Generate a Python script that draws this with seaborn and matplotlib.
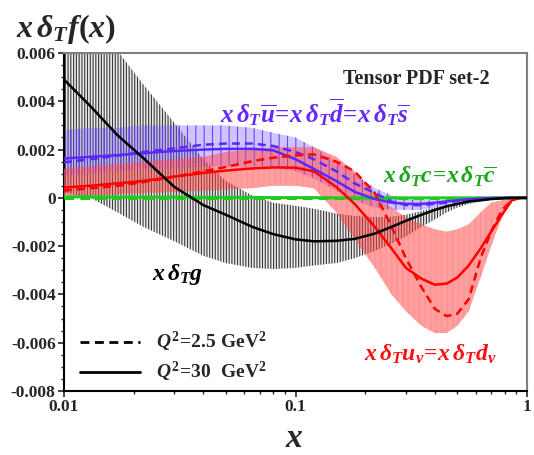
import numpy as np
import matplotlib
matplotlib.use("Agg")
import matplotlib.pyplot as plt
import seaborn as sns
from matplotlib.lines import Line2D
from matplotlib.ticker import FixedLocator, FixedFormatter, NullFormatter, LogLocator

# x grid
x = [0.01, 0.013, 0.017, 0.022, 0.03, 0.04, 0.05, 0.065, 0.08, 0.1, 0.12, 0.15, 0.18,
     0.22, 0.26, 0.3, 0.35, 0.4, 0.45, 0.5, 0.56, 0.63, 0.7, 0.78, 0.86, 0.93, 1.0]

# gluon (black), Q2=30 and its band
g30 = [0.0049, 0.0038, 0.0026, 0.00165, 0.00045, -0.0003, -0.0007, -0.0012, -0.0015, -0.00172,
       -0.0018, -0.00178, -0.0017, -0.00148, -0.0012, -0.00095, -0.0007, -0.0005, -0.00035,
       -0.00025, -0.00015, -0.0001, -0.00005, -0.00002, 0, 0, 0]
g_up = [0.0095, 0.0078, 0.0061, 0.0047, 0.0031, 0.0016, 0.0007, 0.0001, -0.0002, -0.00033,
        -0.00045, -0.00065, -0.00075, -0.0008, -0.00078, -0.0007, -0.00055, -0.0004, -0.0003,
        -0.0002, -0.00012, -0.00007, -0.00004, -0.00002, 0, 0, 0]
g_lo = [0.0002, 0.0, -0.0006, -0.0012, -0.0018, -0.0024, -0.0027, -0.0029, -0.00295, -0.0029,
        -0.0028, -0.0027, -0.0025, -0.0022, -0.0019, -0.0016, -0.0012, -0.0009, -0.0006,
        -0.0004, -0.00025, -0.00015, -0.00008, -0.00003, 0, 0, 0]

# sea antiquarks (blue)
q25 = [0.00147, 0.0016, 0.00175, 0.0019, 0.00205, 0.0022, 0.00225, 0.00225, 0.00215, 0.0019,
       0.0016, 0.0011, 0.0006, 0.0002, -0.00015, -0.0003, -0.0003, -0.00025, -0.0002,
       -0.00013, -0.00008, -0.00004, -0.00002, 0, 0, 0, 0]
q30 = [0.00163, 0.0017, 0.00177, 0.00185, 0.00194, 0.002, 0.00203, 0.00203, 0.00197, 0.0016,
       0.0012, 0.0007, 0.00025, -0.00005, -0.0002, -0.00025, -0.00025, -0.0002, -0.00015,
       -0.0001, -0.00006, -0.00003, -0.00001, 0, 0, 0, 0]
q_up = [0.0028, 0.0029, 0.0029, 0.003, 0.003, 0.003, 0.003, 0.0029, 0.0027, 0.0025, 0.0021,
        0.0015, 0.001, 0.0004, 0.0001, -0.00005, -0.0001, -0.0001, -0.00008, -0.00005,
        -0.00003, -0.00001, 0, 0, 0, 0, 0]
q_lo = [0.0009, 0.001, 0.0011, 0.0012, 0.0012, 0.0013, 0.0013, 0.0013, 0.0013, 0.0011, 0.0008,
        0.0003, -0.0001, -0.0004, -0.0005, -0.0005, -0.0005, -0.0004, -0.0003, -0.0002,
        -0.00012, -0.00006, -0.00002, 0, 0, 0, 0]

# valence (red)
r25 = [0.0003, 0.0004, 0.0005, 0.00065, 0.00088, 0.0011, 0.00128, 0.00152, 0.00166, 0.00176,
       0.0018, 0.0015, 0.0011, 0.0002, -0.0012, -0.0025, -0.0037, -0.0046, -0.0049, -0.0048,
       -0.0042, -0.0025, -0.0014, -0.0005, -0.0001, 0, 0]
r30 = [0.00043, 0.0005, 0.0006, 0.0007, 0.00088, 0.00103, 0.00113, 0.00122, 0.00126, 0.00125,
       0.0011, 0.00045, -0.00025, -0.0012, -0.0021, -0.0029, -0.00335, -0.0036, -0.00355,
       -0.0033, -0.0028, -0.0021, -0.0014, -0.0007, -0.0001, 0, 0]
r_up = [0.0012, 0.0013, 0.0014, 0.0015, 0.0016, 0.0017, 0.0019, 0.002, 0.0021, 0.0021, 0.0021,
        0.0017, 0.0011, 0.0001, -0.0004, -0.0008, -0.0011, -0.0013, -0.0014, -0.0013, -0.0011,
        -0.0006, -0.0002, -0.0001, 0, 0, 0]
r_lo = [0.0, 0.0001, 0.00015, 0.0002, 0.00025, 0.0003, 0.00035, 0.0004, 0.0005, 0.0005,
        0.0004, -0.0006, -0.0017, -0.0029, -0.004, -0.0047, -0.0053, -0.0056, -0.0056, -0.0053,
        -0.0047, -0.0033, -0.002, -0.0008, -0.0001, 0, 0]

# charm (green)
c25 = [0.0] * len(x)
c30 = [0.00004, 0.00004, 0.00003, 0.00003, 0.00003, 0.00002, 0.00002, 0.00002, 0.00001,
       0.00001, 0.00001, 0, 0, 0, 0, 0, 0, 0, 0, 0, 0, 0, 0, 0, 0, 0, 0]

yticks = [-0.008, -0.006, -0.004, -0.002, 0, 0.002, 0.004, 0.006]
ylabels = ["-0.008", "-0.006", "-0.004", "-0.002", "0", "0.002", "0.004", "0.006"]
xticks = [0.01, 0.1, 1]
xlabels = ["0.01", "0.1", "1"]

sns.set_theme(style="ticks")
plt.rcParams["font.family"] = ["Liberation Serif", "DejaVu Serif"]
plt.rcParams["font.weight"] = "bold"
plt.rcParams["mathtext.fontset"] = "custom"
plt.rcParams["mathtext.rm"] = "Liberation Serif:bold"
plt.rcParams["mathtext.it"] = "Liberation Serif:italic:bold"
plt.rcParams["mathtext.bf"] = "Liberation Serif:bold"
plt.rcParams["hatch.linewidth"] = 0.8

blue = "#5a28ff"
red = "#ff0000"
green = "#1ecc1e"

fig = plt.figure(figsize=(5.34, 4.55), dpi=100)
ax = fig.add_axes([64 / 534, 1 - 391 / 455, 463 / 534, 338 / 455])
ax.set_xscale("log")

# bands
ax.fill_between(x, g_lo, g_up, facecolor=(0.85, 0.85, 0.85, 0.5), edgecolor="#383838",
                hatch="||||||", linewidth=0, zorder=1)
ax.fill_between(x, q_lo, q_up, facecolor=(0.45, 0.35, 1.0, 0.35), edgecolor=(0.4, 0.2, 1.0, 0.9),
                hatch="||", linewidth=0, zorder=2)
ax.fill_between(x, r_lo, r_up, facecolor=(1.0, 0.25, 0.25, 0.5), edgecolor=(1.0, 0.55, 0.55, 0.8),
                hatch="|||", linewidth=0, zorder=3)

dash = (0, (3.2, 2.0))
sns.lineplot(x=x, y=c25, ax=ax, color=green, linewidth=2.2, linestyle=dash, zorder=4)
sns.lineplot(x=x, y=c30, ax=ax, color=green, linewidth=2.2, zorder=4)
sns.lineplot(x=x, y=q25, ax=ax, color=blue, linewidth=1.8, linestyle=dash, zorder=5)
sns.lineplot(x=x, y=q30, ax=ax, color=blue, linewidth=1.8, zorder=5)
sns.lineplot(x=x, y=r25, ax=ax, color=red, linewidth=1.8, linestyle=dash, zorder=6)
sns.lineplot(x=x, y=r30, ax=ax, color=red, linewidth=1.8, zorder=6)
sns.lineplot(x=x, y=g30, ax=ax, color="black", linewidth=1.8, zorder=7)

ax.set_xlim(0.01, 1)
ax.set_ylim(-0.008, 0.006)
ax.yaxis.set_major_locator(FixedLocator(yticks))
ax.yaxis.set_major_formatter(FixedFormatter(ylabels))
ax.yaxis.set_minor_locator(FixedLocator(np.arange(-0.008, 0.0061, 0.0005)))
ax.xaxis.set_major_locator(FixedLocator(xticks))
ax.xaxis.set_major_formatter(FixedFormatter(xlabels))
ax.xaxis.set_minor_locator(LogLocator(base=10, subs=np.arange(2, 10)))
ax.xaxis.set_minor_formatter(NullFormatter())
ax.tick_params(which="major", direction="out", length=4, width=1.2, labelsize=12.5, pad=2)
ax.tick_params(which="minor", direction="out", length=2.5, width=1.0)
for lab in ax.get_xticklabels() + ax.get_yticklabels():
    lab.set_fontweight("bold")
    lab.set_family(["Liberation Serif", "DejaVu Serif"])
ax.set_xlabel("")
ax.set_ylabel("")

for s in ["left", "bottom"]:
    ax.spines[s].set_color("black")
    ax.spines[s].set_linewidth(1.5)
for s in ["top", "right"]:
    ax.spines[s].set_color("#808080")
    ax.spines[s].set_linewidth(1.5)

# texts
fig.text(0.03, 0.937, r"$x\,\delta_T f(x)$", fontsize=23, va="center", ha="left")
fig.text(0.551, 0.037, r"$x$", fontsize=24, va="center", ha="center")
ax.text(0.603, 0.922, "Tensor PDF set-2", transform=ax.transAxes, fontsize=14.5,
        fontweight="bold", va="center", ha="left")
ax.text(0.338, 0.826, r"$x\,\delta_T\overline{u}\!=\!x\,\delta_T\overline{d}\!=\!x\,\delta_T\overline{s}$",
        transform=ax.transAxes, fontsize=18, color="#6428ff", va="center", ha="left")
ax.text(0.688, 0.632, r"$x\,\delta_T c\!=\!x\,\delta_T\overline{c}$", transform=ax.transAxes,
        fontsize=17, color="#1aa61a", va="center", ha="left")
ax.text(0.19, 0.345, r"$x\,\delta_T g$", transform=ax.transAxes, fontsize=17,
        color="black", va="center", ha="left")
ax.text(0.648, 0.108, r"$x\,\delta_T u_v\!=\!x\,\delta_T d_v$", transform=ax.transAxes,
        fontsize=17, color="#ff1010", va="center", ha="left")

handles = [Line2D([], [], color="black", linewidth=2.0, linestyle=dash),
           Line2D([], [], color="black", linewidth=2.0)]
labels = [r"$Q^2\!=\!2.5\ \mathrm{GeV}^2$", r"$Q^2\!=\!30\ \ \mathrm{GeV}^2$"]
ax.legend(handles, labels, loc="lower left", bbox_to_anchor=(0.035, 0.02), frameon=False,
          fontsize=14, handlelength=3.1, handletextpad=0.8, labelspacing=0.3,
          borderpad=0, borderaxespad=0)

fig.savefig("out.png", dpi=100)
